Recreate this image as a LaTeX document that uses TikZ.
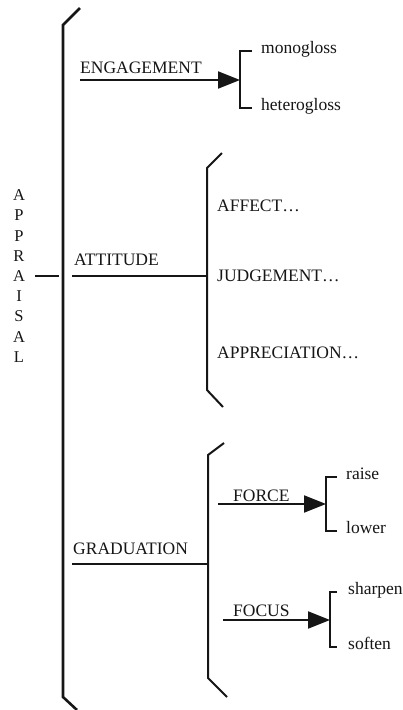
\documentclass[tikz,border=0pt]{standalone}
\usepackage{fontspec}
\setmainfont{Liberation Serif}
\usetikzlibrary{arrows.meta,positioning}
\definecolor{diagink}{HTML}{161616}

\begin{document}
\begin{tikzpicture}[
        x=1pt,y=-1pt,
        rail/.style={draw=diagink,line width=2.6pt,line join=miter},
        twig/.style={draw=diagink,line width=2pt,line join=miter},
        flow/.style={twig,-{Triangle[length=22pt,width=17pt]}},
        term/.style={inner sep=0pt,text=diagink,font=\fontsize{17.5}{20}\selectfont},
        leaf/.style={term,anchor=mid west}
      ]
        \useasboundingbox (0,0) rectangle (403,710);
        \fill[white] (0,0) rectangle (403,710);

        % main bracket and root
        \coordinate (spine) at (63,276);
        \draw[rail] (80,8) -- (63,25) -- (63,697) -- (77,710);
        \node[term,align=center,font=\fontsize{16.5}{20.2}\selectfont]
          (appraisal) at (19,276) {A\\P\\P\\R\\A\\I\\S\\A\\L};
        \draw[twig,shorten <=10pt,shorten >=4pt] (appraisal.east) -- (spine);

        % engagement
        \coordinate (engfoot) at (80,80);
        \coordinate (engfork) at (240,80);
        \node[term,above right=6pt and 0pt of engfoot] (engagement) {ENGAGEMENT};
        \draw[flow] (engfoot) -- (engfork);
        \node[leaf] (mono) at (261,51) {monogloss};
        \node[leaf] (hetero) at (261,108) {heterogloss};
        \draw[twig] ([xshift=-9pt]mono.mid west) -| (engfork)
          |- ([xshift=-9pt]hetero.mid west);

        % attitude
        \coordinate (attfoot) at (72,276);
        \coordinate (attfork) at (207,276);
        \node[term,above right=10pt and 2pt of attfoot] (attitude) {ATTITUDE};
        \draw[twig] (attfoot) -- (attfork);
        \draw[twig] (222,153) -- (207,168) -- (207,390) -- (223,407);
        \node[term,anchor=west] (affect) at (217,206) {AFFECT\ldots};
        \node[term,anchor=west] (judgement) at (217,276) {JUDGEMENT\ldots};
        \node[term,anchor=west] (appreciation) at (217,353) {APPRECIATION\ldots};

        % graduation
        \coordinate (gradfoot) at (72,564);
        \coordinate (gradfork) at (208,564);
        \node[term,above right=9pt and 1pt of gradfoot] (graduation) {GRADUATION};
        \draw[twig] (gradfoot) -- (gradfork);
        \draw[twig] (224,443) -- (208,455) -- (208,678) -- (227,697);

        \coordinate (forcefoot) at (218,504);
        \coordinate (forcefork) at (326,504);
        \node[term,above right=2pt and 15pt of forcefoot] (force) {FORCE};
        \draw[flow] (forcefoot) -- (forcefork);
        \node[leaf] (raise) at (346,477) {raise};
        \node[leaf] (lower) at (346,531) {lower};
        \draw[twig] ([xshift=-9pt]raise.mid west) -| (forcefork)
          |- ([xshift=-9pt]lower.mid west);

        \coordinate (focusfoot) at (223,620);
        \coordinate (focusfork) at (330,620);
        \node[term,above right=3pt and 10pt of focusfoot] (focus) {FOCUS};
        \draw[flow] (focusfoot) -- (focusfork);
        \node[leaf] (sharpen) at (348,592) {sharpen};
        \node[leaf] (soften) at (348,647) {soften};
        \draw[twig] ([xshift=-11pt]sharpen.mid west) -| (focusfork)
          |- ([xshift=-11pt]soften.mid west);
      \end{tikzpicture}
\end{document}
